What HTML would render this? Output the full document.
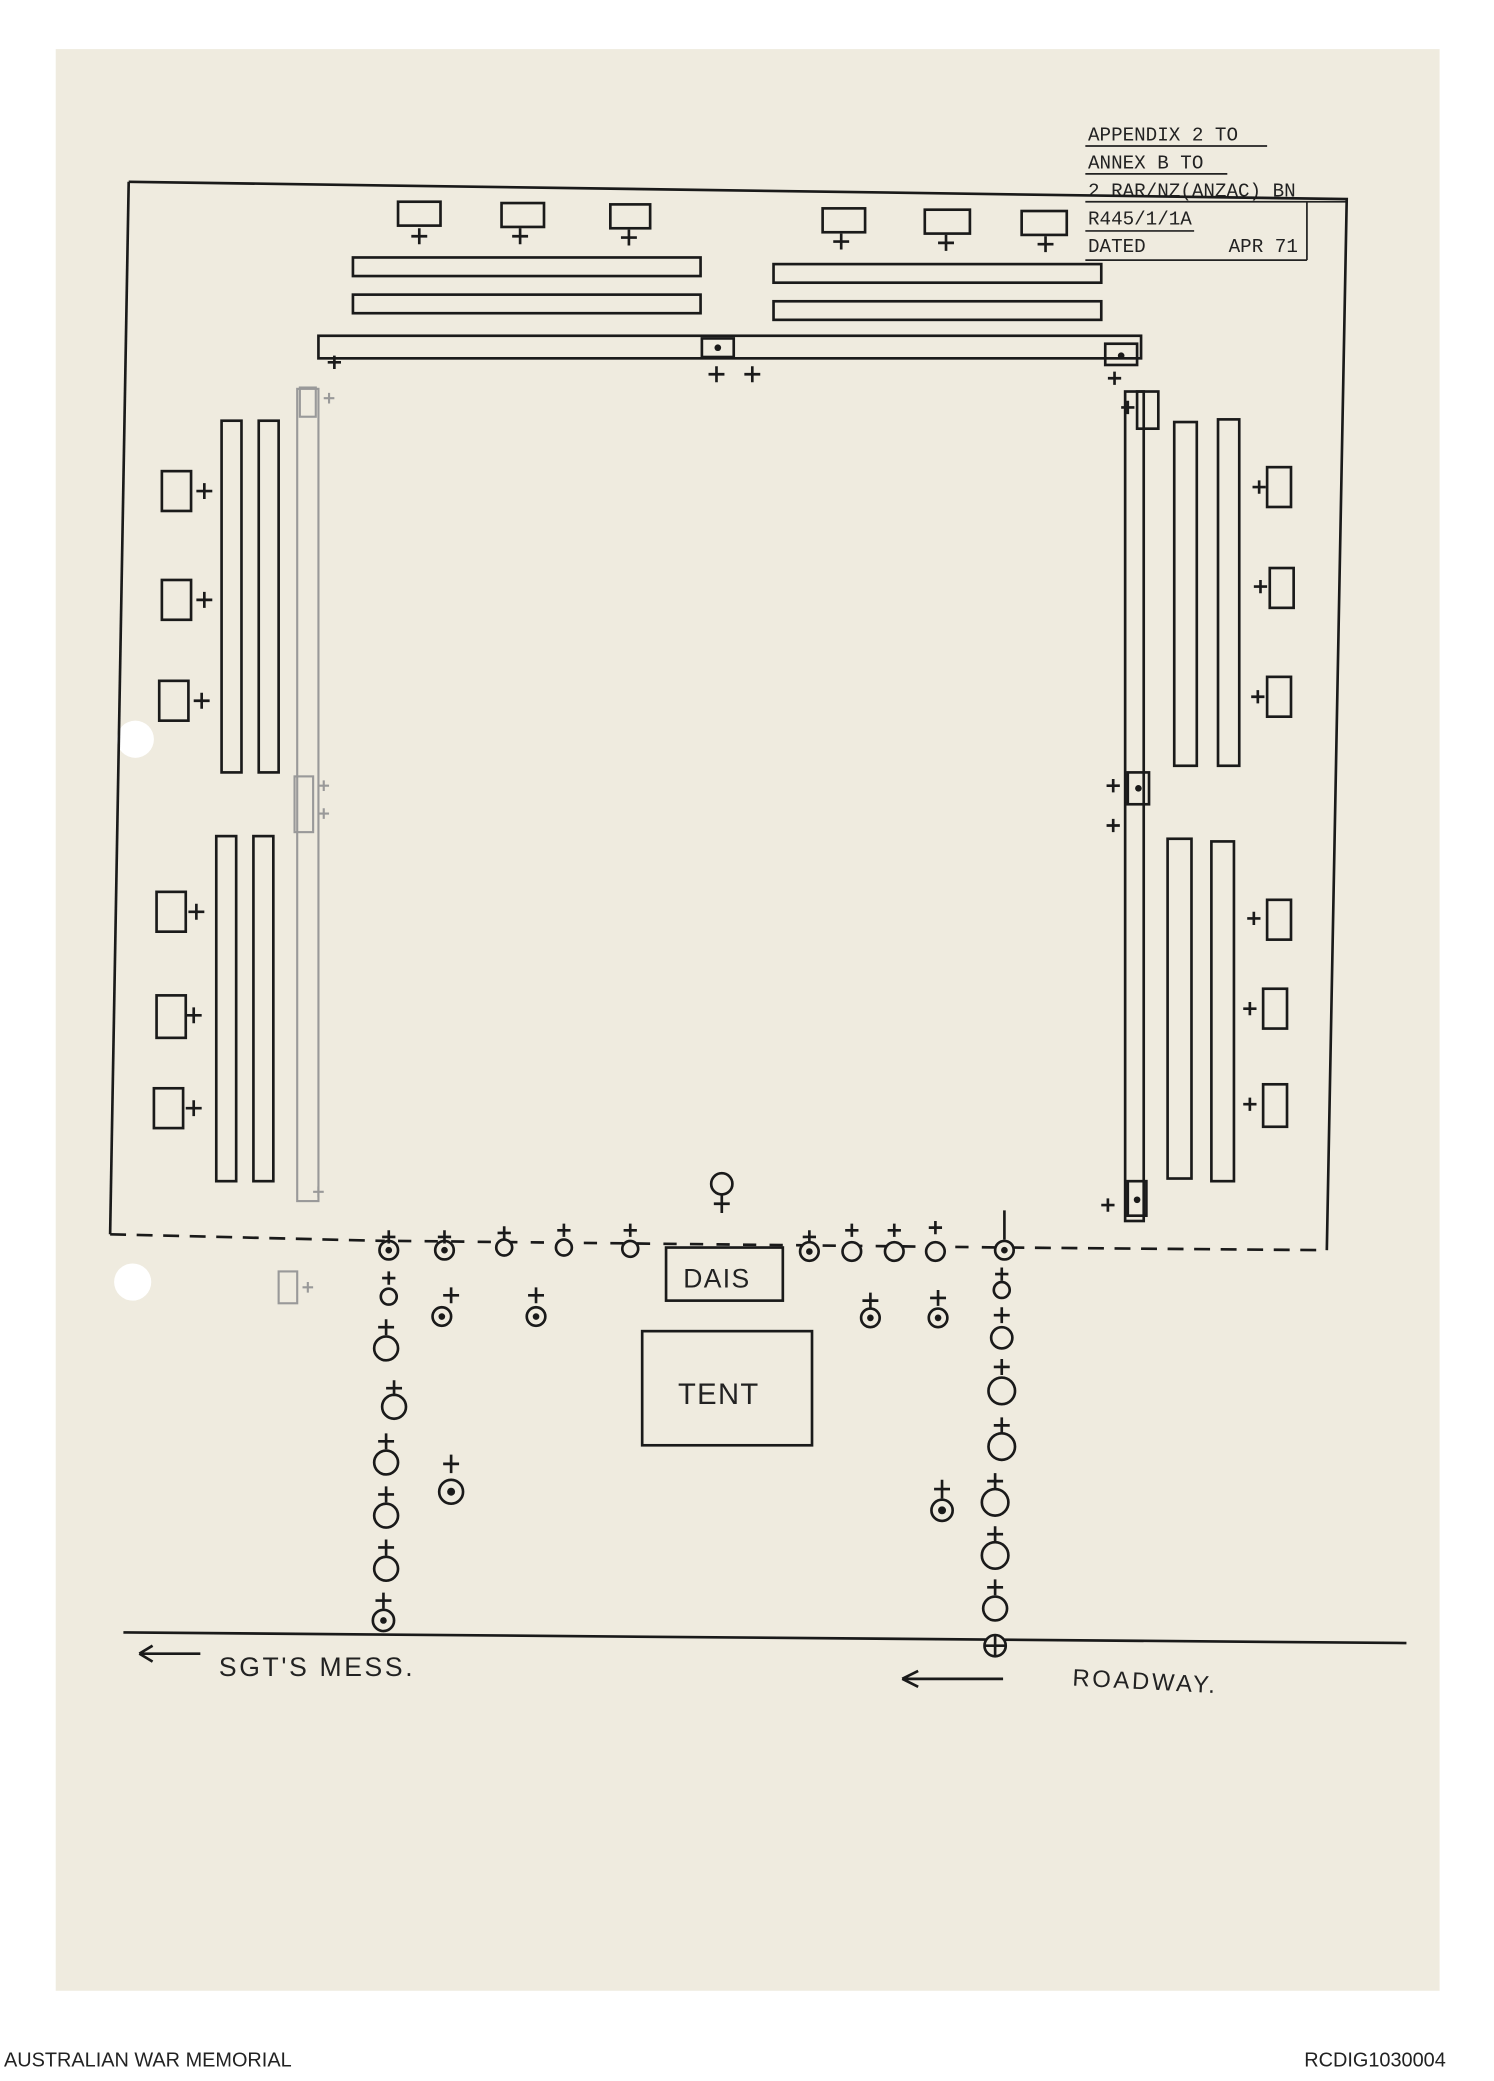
<!DOCTYPE html>
<html><head><meta charset="utf-8"><style>
html,body{margin:0;padding:0;background:#fff;width:1494px;height:2081px;overflow:hidden}
svg{display:block}
</style></head><body>
<svg width="1494" height="2081" viewBox="0 0 1126 1568" preserveAspectRatio="none" xmlns="http://www.w3.org/2000/svg">
<rect x="0" y="0" width="1126" height="1568" fill="#ffffff"/>
<rect x="42" y="37" width="1043" height="1463" fill="#efebdf"/>
<circle cx="102" cy="557" r="14" fill="#fff"/>
<circle cx="100" cy="966" r="14" fill="#fff"/>
<g font-family="Liberation Mono, monospace" font-size="14.5" fill="#222">
<text x="820" y="106">APPENDIX 2 TO</text>
<text x="820" y="127">ANNEX B TO</text>
<text x="820" y="148">2 RAR/NZ(ANZAC) BN</text>
<text x="820" y="169">R445/1/1A</text>
<text x="820" y="190">DATED</text>
<text x="926" y="190">APR 71</text>
</g>
<g stroke="#222" stroke-width="1.3">
<line x1="818" y1="110" x2="955" y2="110"/><line x1="818" y1="131" x2="925" y2="131"/>
<line x1="818" y1="152" x2="1015" y2="152"/><line x1="818" y1="174" x2="900" y2="174"/>
<line x1="818" y1="196" x2="985" y2="196"/><line x1="985" y1="152" x2="985" y2="196"/>
</g>
<g fill="none" stroke="#1a1a1a" stroke-width="2">
<path d="M97 137 L1015 150 L1000 942"/>
<path d="M97 137 L83 930"/>
<path d="M83 930 L290 935 M760 940 L1000 942" stroke-dasharray="12 8"/>
<path d="M300 935 L760 940" stroke-dasharray="10 10"/>
<line x1="93" y1="1230" x2="1060" y2="1238"/>
<!-- top chairs -->
<rect x="300" y="152" width="32" height="18"/><rect x="378" y="153" width="32" height="18"/><rect x="460" y="154" width="30" height="18"/>
<rect x="620" y="157" width="32" height="18"/><rect x="697" y="158" width="34" height="18"/><rect x="770" y="159" width="34" height="18"/>
<path d="M316 172v12M310 178h12M392 172v12M386 178h12M474 173v12M468 179h12M634 176v12M628 182h12M713 177v12M707 183h12M788 178v12M782 184h12"/>
<rect x="266" y="194" width="262" height="14"/><rect x="266" y="222" width="262" height="14"/>
<rect x="583" y="199" width="247" height="14"/><rect x="583" y="227" width="247" height="14"/>
<rect x="240" y="253" width="620" height="17"/>
<rect x="529" y="255" width="24" height="14"/><rect x="833" y="259" width="24" height="16"/>
<path d="M540 276v12M534 282h12M567 276v12M561 282h12M252 268v10M247 273h10M840 280v10M835 285h10"/>
<!-- right side -->
<rect x="848" y="295" width="14" height="625"/><rect x="857" y="295" width="16" height="28"/>
<rect x="885" y="318" width="17" height="259"/><rect x="918" y="316" width="16" height="261"/>
<rect x="880" y="632" width="18" height="256"/><rect x="913" y="634" width="17" height="256"/>
<rect x="850" y="582" width="16" height="24"/><rect x="850" y="890" width="14" height="26"/>
<rect x="955" y="352" width="18" height="30"/><rect x="957" y="428" width="18" height="30"/><rect x="955" y="510" width="18" height="30"/>
<rect x="955" y="678" width="18" height="30"/><rect x="952" y="745" width="18" height="30"/><rect x="952" y="817" width="18" height="32"/>
<path d="M944 367h10M949 362v10M945 442h10M950 437v10M943 525h10M948 520v10M940 692h10M945 687v10M937 760h10M942 755v10M937 832h10M942 827v10M834 592h10M839 587v10M834 622h10M839 617v10M830 908h10M835 903v10M845 307h10M850 302v10"/>
<!-- left side -->
<rect x="122" y="355" width="22" height="30"/><rect x="122" y="437" width="22" height="30"/><rect x="120" y="513" width="22" height="30"/>
<rect x="118" y="672" width="22" height="30"/><rect x="118" y="750" width="22" height="32"/><rect x="116" y="820" width="22" height="30"/>
<path d="M148 370h12M154 364v12M148 452h12M154 446v12M146 528h12M152 522v12M142 687h12M148 681v12M140 765h12M146 759v12M140 835h12M146 829v12"/>
<rect x="167" y="317" width="15" height="265"/><rect x="195" y="317" width="15" height="265"/>
<rect x="163" y="630" width="15" height="260"/><rect x="191" y="630" width="15" height="260"/>
</g>
<g fill="none" stroke="#999" stroke-width="1.6">
<rect x="224" y="293" width="16" height="612"/><rect x="226" y="292" width="12" height="22"/><rect x="222" y="585" width="14" height="42"/>
<path d="M244 300h8M248 296v8M240 592h8M244 588v8M240 613h8M244 609v8M236 898h8M240 894v8"/>
<rect x="210" y="958" width="14" height="24"/><path d="M228 970h8M232 966v8"/>
</g>
<g fill="none" stroke="#1a1a1a" stroke-width="2">
<rect x="502" y="940" width="88" height="40"/>
<rect x="484" y="1003" width="128" height="86"/>
</g>
<g font-family="Liberation Sans, sans-serif" fill="#222">
<text x="515" y="970" font-size="20" letter-spacing="1">DAIS</text>
<text x="511" y="1058" font-size="22" letter-spacing="1">TENT</text>
<text x="165" y="1263" font-size="20" letter-spacing="2">SGT'S MESS.</text>
<text x="808" y="1270" font-size="18" letter-spacing="2" transform="rotate(3 808 1270)">ROADWAY.</text>
</g>
<g stroke="#1a1a1a" stroke-width="2" fill="none">
<path d="M105 1246h46M105 1246l10-6M105 1246l10 6"/>
<path d="M680 1265h76M680 1265l12-6M680 1265l12 6"/>
</g>
<g stroke="#1a1a1a" stroke-width="2" fill="none">
<!-- markers: circle with plus above -->
<g id="m">
</g>
</g>
<g stroke="#1a1a1a" stroke-width="2" fill="#efebdf">
<circle cx="544" cy="892" r="8"/><path d="M544 900v14M538 907h12"/>
<circle cx="293" cy="942" r="7"/><circle cx="335" cy="942" r="7"/><circle cx="380" cy="940" r="6"/><circle cx="425" cy="940" r="6"/><circle cx="475" cy="941" r="6"/>
<circle cx="610" cy="943" r="7"/><circle cx="642" cy="943" r="7"/><circle cx="674" cy="943" r="7"/><circle cx="705" cy="943" r="7"/><circle cx="757" cy="942" r="7"/>
<circle cx="333" cy="992" r="7"/><circle cx="404" cy="992" r="7"/><circle cx="656" cy="993" r="7"/><circle cx="707" cy="993" r="7"/>
<circle cx="293" cy="977" r="6"/><circle cx="291" cy="1016" r="9"/><circle cx="297" cy="1060" r="9"/><circle cx="291" cy="1102" r="9"/><circle cx="291" cy="1142" r="9"/><circle cx="291" cy="1182" r="9"/><circle cx="289" cy="1221" r="8"/>
<circle cx="340" cy="1124" r="9"/><circle cx="710" cy="1138" r="8"/>
<circle cx="755" cy="972" r="6"/><circle cx="755" cy="1008" r="8"/><circle cx="755" cy="1048" r="10"/><circle cx="755" cy="1090" r="10"/><circle cx="750" cy="1132" r="10"/><circle cx="750" cy="1172" r="10"/><circle cx="750" cy="1212" r="9"/><circle cx="750" cy="1240" r="8"/>
<path fill="none" d="M293 927v10M288 932h10M335 927v10M330 932h10M380 924v10M375 929h10M425 922v10M420 927h10M475 922v10M470 927h10M610 927v10M605 932h10M642 922v10M637 927h10M674 922v10M669 927h10M705 920v10M700 925h10M757 912v22M340 970v12M334 976h12M404 970v12M398 976h12M656 974v12M650 980h12M707 972v12M701 978h12M293 958v10M288 963h10M291 994v12M285 1000h12M297 1040v12M291 1046h12M291 1080v12M285 1086h12M291 1120v12M285 1126h12M291 1160v12M285 1166h12M289 1200v12M283 1206h12M340 1096v14M334 1103h12M710 1115v14M704 1122h12M755 955v10M750 960h10M755 985v12M749 991h12M755 1024v12M749 1030h12M755 1068v12M749 1074h12M750 1110v12M744 1116h12M750 1150v12M744 1156h12M750 1190v12M744 1196h12M742 1240h16M750 1232v16"/>
</g>
<g fill="#1a1a1a">
<circle cx="293" cy="942" r="2.5"/><circle cx="335" cy="942" r="2.5"/><circle cx="610" cy="943" r="2.5"/><circle cx="757" cy="942" r="2.5"/><circle cx="333" cy="992" r="2.5"/><circle cx="404" cy="992" r="2.5"/><circle cx="656" cy="993" r="2.5"/><circle cx="707" cy="993" r="2.5"/><circle cx="340" cy="1124" r="3"/><circle cx="710" cy="1138" r="3"/><circle cx="289" cy="1221" r="2.5"/><circle cx="541" cy="262" r="2.5"/><circle cx="845" cy="268" r="2.5"/><circle cx="858" cy="594" r="2.5"/><circle cx="857" cy="904" r="2.5"/>
</g>
<g font-family="Liberation Sans, sans-serif" font-size="15" fill="#222">
<text x="3" y="1557">AUSTRALIAN WAR MEMORIAL</text>
<text x="983" y="1557">RCDIG1030004</text>
</g>
</svg>
</body></html>
